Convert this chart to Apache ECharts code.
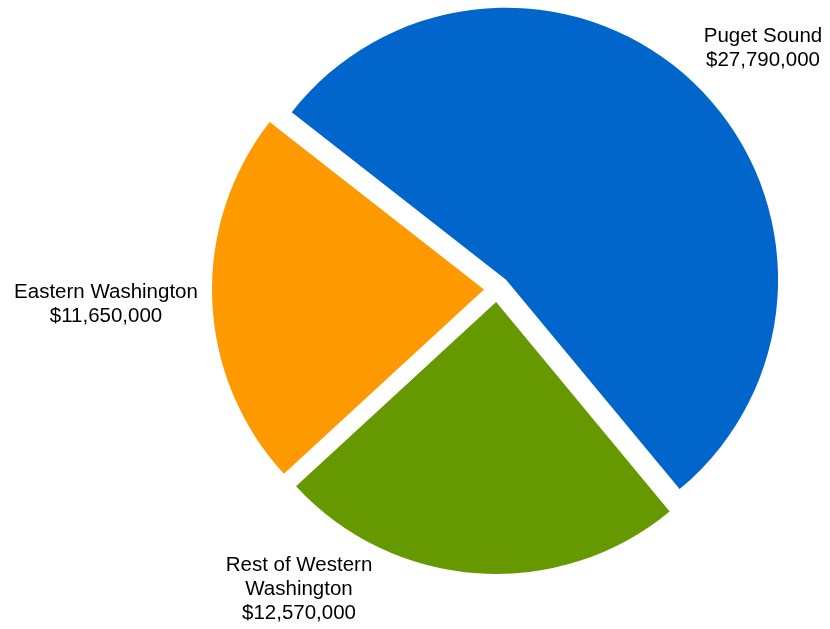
<!DOCTYPE html>
<html>
<head>
<meta charset="utf-8">
<script src="https://cdn.jsdelivr.net/npm/echarts@6/dist/echarts.min.js"></script>
<style>
  html, body { margin: 0; padding: 0; background: #fff; }
  #chart { width: 830px; height: 629px; }
</style>
</head>
<body>
<div id="chart"></div>
<script>
const regions = ['Puget Sound', 'Rest of Western\nWashington', 'Eastern Washington'];
const amounts = [27790000, 12570000, 11650000];
const sliceColors = ['#0066CC', '#669900', '#FF9900'];
// where each label block sits (centre)
const labelSpots = [[763, 48], [299, 589], [106, 304]];

const chart = echarts.init(document.getElementById('chart'));

const money = v => '$' + v.toLocaleString('en-US');

const pieCenter = [497, 289];
const pieRadius = 272;
const pieStart = 142;

// exploded slices (select state ignores labelLayout, so labels go on a second, invisible pie)
const sliceData = regions.map((name, i) => ({
    name: name,
    value: amounts[i],
    selected: true,
    itemStyle: { color: sliceColors[i] }
}));

const labelData = regions.map((name, i) => ({
    name: name,
    value: amounts[i]
}));

chart.setOption({
    animation: false,
    series: [
        {
            type: 'pie',
            center: pieCenter,
            radius: pieRadius,
            startAngle: pieStart,
            selectedMode: 'multiple',
            selectedOffset: 13,
            data: sliceData,
            label: { show: false },
            labelLine: { show: false },
            emphasis: { disabled: true },
            select: { itemStyle: {} }
        },
        {
            type: 'pie',
            center: pieCenter,
            radius: pieRadius,
            startAngle: pieStart,
            silent: true,
            z: 3,
            data: labelData,
            itemStyle: { color: 'rgba(0,0,0,0)' },
            label: {
                show: true,
                position: 'inside',
                overflow: 'none',
                formatter: p => p.name + '\n' + money(p.value),
                fontFamily: 'Liberation Sans, Arial, sans-serif',
                fontSize: 20.5,
                lineHeight: 24,
                color: '#000',
                align: 'center',
                verticalAlign: 'middle'
            },
            labelLine: { show: false },
            labelLayout: p => ({
                x: labelSpots[p.dataIndex][0],
                y: labelSpots[p.dataIndex][1],
                align: 'center',
                verticalAlign: 'middle'
            }),
            emphasis: { disabled: true }
        }
    ]
});
</script>
</body>
</html>
